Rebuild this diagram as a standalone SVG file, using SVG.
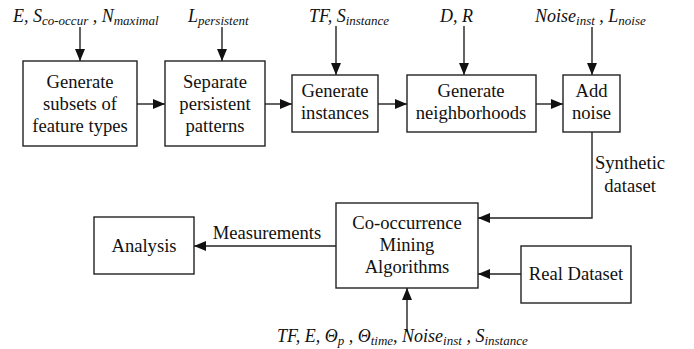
<svg xmlns="http://www.w3.org/2000/svg" width="694" height="349" viewBox="0 0 694 349">
<defs>
<marker id="ah" viewBox="0 0 12 10" refX="12" refY="5" markerWidth="12" markerHeight="10" markerUnits="userSpaceOnUse" orient="auto">
<path d="M0,0 L12,5 L0,10 Z" fill="#111"/>
</marker>
</defs>
<rect width="694" height="349" fill="#fff"/>
<g id="connectors" fill="none" stroke="#222" stroke-width="1.4">
<line x1="80" y1="27" x2="80" y2="61" marker-end="url(#ah)"/>
<line x1="222" y1="27" x2="222" y2="61" marker-end="url(#ah)"/>
<line x1="336" y1="26" x2="336" y2="75" marker-end="url(#ah)"/>
<line x1="464" y1="26" x2="464" y2="75" marker-end="url(#ah)"/>
<line x1="592" y1="27" x2="592" y2="75" marker-end="url(#ah)"/>
<line x1="137" y1="104" x2="165" y2="104" marker-end="url(#ah)"/>
<line x1="265" y1="104" x2="292" y2="104" marker-end="url(#ah)"/>
<line x1="378" y1="104" x2="407" y2="104" marker-end="url(#ah)"/>
<line x1="536" y1="104" x2="563" y2="104" marker-end="url(#ah)"/>
<polyline points="592,132 592,218 478,218" marker-end="url(#ah)"/>
<line x1="521" y1="274" x2="478" y2="274" marker-end="url(#ah)"/>
<line x1="336" y1="246" x2="194" y2="246" marker-end="url(#ah)"/>
<line x1="407" y1="332" x2="407" y2="288" marker-end="url(#ah)"/>
</g>
<g id="connector-labels" font-size="18.6" fill="#111" text-anchor="middle">
<text font-family="Liberation Serif" x="267" y="239">Measurements</text>
<text font-family="Liberation Serif" x="630" y="169">Synthetic</text>
<text font-family="Liberation Serif" x="630" y="192">dataset</text>
</g>
<g id="params" font-size="18" font-style="italic" fill="#111">
<text font-family="Liberation Serif" x="13" y="22">E, S<tspan font-size="13" dy="3">co-occur</tspan><tspan dy="-3"> , N</tspan><tspan font-size="13" dy="3">maximal</tspan></text>
<text font-family="Liberation Serif" x="188" y="22">L<tspan font-size="13" dy="3">persistent</tspan></text>
<text font-family="Liberation Serif" x="309" y="22">TF, S<tspan font-size="13" dy="3">instance</tspan></text>
<text font-family="Liberation Serif" x="440" y="22">D, R</text>
<text font-family="Liberation Serif" x="535" y="22">Noise<tspan font-size="13" dy="3">inst</tspan><tspan dy="-3"> , L</tspan><tspan font-size="13" dy="3">noise</tspan></text>
<text font-family="Liberation Serif" x="277" y="342">TF, E, Θ<tspan font-size="13" dy="3">p</tspan><tspan dy="-3"> , Θ</tspan><tspan font-size="13" dy="3">time</tspan><tspan dy="-3">, Noise</tspan><tspan font-size="13" dy="3">inst</tspan><tspan dy="-3"> , S</tspan><tspan font-size="13" dy="3">instance</tspan></text>
</g>
<g id="nodes" font-size="18.6" text-anchor="middle">
<g id="gen-subsets">
<rect x="23" y="61" width="114" height="85" fill="#fff" stroke="#222" stroke-width="1.4"/>
<text font-family="Liberation Serif" fill="#111" x="80" y="88">Generate</text>
<text font-family="Liberation Serif" fill="#111" x="80" y="110">subsets of</text>
<text font-family="Liberation Serif" fill="#111" x="80" y="132">feature types</text>
</g>
<g id="separate">
<rect x="165" y="61" width="100" height="85" fill="#fff" stroke="#222" stroke-width="1.4"/>
<text font-family="Liberation Serif" fill="#111" x="215" y="88">Separate</text>
<text font-family="Liberation Serif" fill="#111" x="215" y="110">persistent</text>
<text font-family="Liberation Serif" fill="#111" x="215" y="132">patterns</text>
</g>
<g id="gen-instances">
<rect x="292" y="75" width="86" height="57" fill="#fff" stroke="#222" stroke-width="1.4"/>
<text font-family="Liberation Serif" fill="#111" x="335" y="97">Generate</text>
<text font-family="Liberation Serif" fill="#111" x="335" y="119">instances</text>
</g>
<g id="gen-neighborhoods">
<rect x="407" y="75" width="129" height="57" fill="#fff" stroke="#222" stroke-width="1.4"/>
<text font-family="Liberation Serif" fill="#111" x="471" y="97">Generate</text>
<text font-family="Liberation Serif" fill="#111" x="471" y="119">neighborhoods</text>
</g>
<g id="add-noise">
<rect x="563" y="75" width="57" height="57" fill="#fff" stroke="#222" stroke-width="1.4"/>
<text font-family="Liberation Serif" fill="#111" x="591.5" y="97">Add</text>
<text font-family="Liberation Serif" fill="#111" x="591.5" y="119">noise</text>
</g>
<g id="mining">
<rect x="336" y="203" width="142" height="85" fill="#fff" stroke="#222" stroke-width="1.4"/>
<text font-family="Liberation Serif" fill="#111" x="407" y="229">Co-occurrence</text>
<text font-family="Liberation Serif" fill="#111" x="407" y="251">Mining</text>
<text font-family="Liberation Serif" fill="#111" x="407" y="273">Algorithms</text>
</g>
<g id="analysis">
<rect x="94" y="217" width="100" height="57" fill="#fff" stroke="#222" stroke-width="1.4"/>
<text font-family="Liberation Serif" fill="#111" x="144" y="252">Analysis</text>
</g>
<g id="real-dataset">
<rect x="521" y="246" width="110" height="57" fill="#fff" stroke="#222" stroke-width="1.4"/>
<text font-family="Liberation Serif" fill="#111" x="576" y="280">Real Dataset</text>
</g>
</g>
</svg>
